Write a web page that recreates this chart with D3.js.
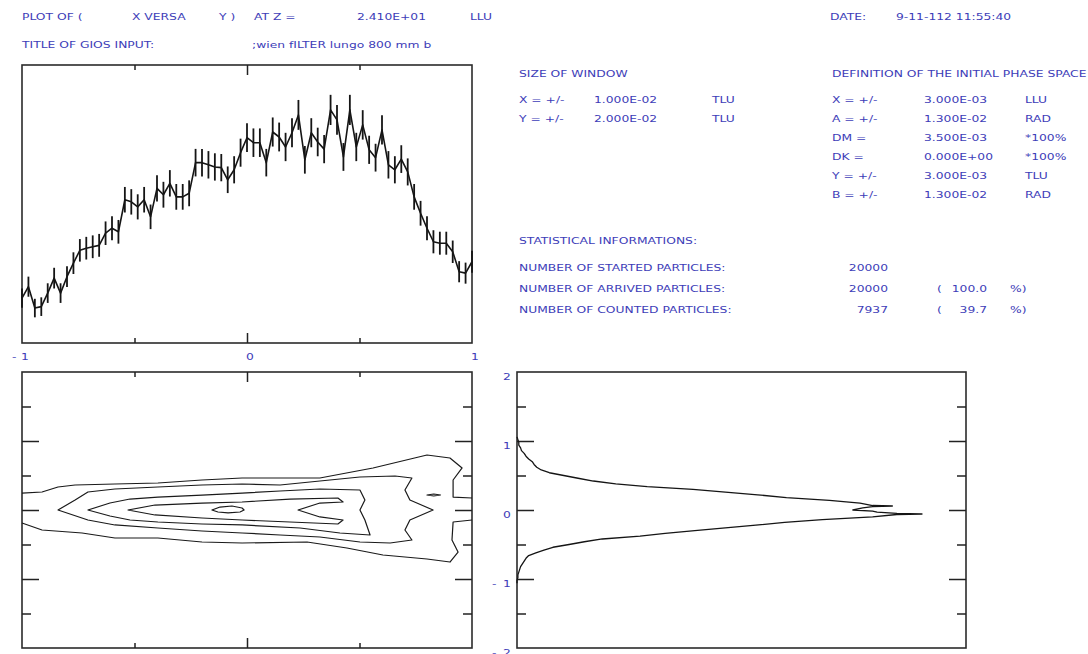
<!DOCTYPE html>
<html>
<head>
<meta charset="utf-8">
<script src="https://cdn.jsdelivr.net/npm/d3@7"></script>
<style>
  body { margin: 0; background: #fff; }
  text { font-family: "DejaVu Sans", sans-serif; font-size: 8.5px; fill: #3d3db8; }
</style>
</head>
<body>
<svg id="c" width="1088" height="654"></svg>
<script>
// ---- X projection histogram (counts per bin, bins from -1 to 1) ----
const histCounts = [183, 199, 169, 171, 190, 211, 190, 213, 232, 250, 253, 255, 257, 274, 281, 276,
  321, 318, 311, 321, 297, 337, 328, 344, 325, 325, 330, 373, 373, 370, 367, 366, 349, 363, 387,
  408, 401, 401, 373, 416, 409, 395, 415, 440, 377, 415, 402, 392, 447, 433, 381, 447, 395, 426,
  391, 380, 419, 370, 363, 378, 360, 325, 302, 281, 262, 260, 260, 248, 220, 218, 234];

// ---- Y projection profile (y position, counts) ----
const profileY = [1.06, 1.02, 0.98, 0.94, 0.90, 0.86, 0.82, 0.78, 0.74, 0.70, 0.66, 0.62, 0.58, 0.54,
  0.50, 0.46, 0.42, 0.38, 0.34, 0.30, 0.26, 0.22, 0.18, 0.14, 0.10, 0.065, 0.058, 0.05, 0.03, 0.0,
  -0.015, -0.03, -0.05, -0.058, -0.065, -0.10, -0.14, -0.18, -0.22, -0.26, -0.30, -0.34, -0.38, -0.42,
  -0.46, -0.50, -0.54, -0.58, -0.62, -0.66, -0.70, -0.74, -0.78, -0.82, -0.86, -0.90, -0.94, -0.98,
  -1.02, -1.06];
const profileCounts = [0, 1, 2, 2, 4, 5, 8, 10, 13, 17, 19, 22, 27, 36, 52, 68, 85, 110, 145, 196,
  232, 268, 300, 348, 382, 396, 418, 396, 385, 374, 396, 401, 423, 451, 423, 396, 340, 298, 266, 232,
  198, 165, 137, 95, 75, 58, 40, 30, 21, 13, 10, 8, 6, 4, 3, 2, 1, 1, 0, 0];

// ---- X-Y density contours, [x, y] in window units ----
const contourOuterTop = [[-1.000, 0.246], [-0.911, 0.261], [-0.840, 0.333], [-0.764, 0.362], [-0.587, 0.377],
  [-0.396, 0.391], [-0.200, 0.435], [-0.022, 0.464], [0.324, 0.464], [0.560, 0.609], [0.800, 0.797],
  [0.902, 0.754], [0.956, 0.609], [0.916, 0.435], [0.916, 0.188], [1.000, 0.174]];
const contourOuterBottom = [[-1.000, -0.188], [-0.911, -0.290], [-0.733, -0.333], [-0.587, -0.406],
  [-0.396, -0.406], [-0.200, -0.464], [-0.022, -0.478], [0.267, -0.464], [0.444, -0.551], [0.604, -0.652],
  [0.800, -0.710], [0.902, -0.754], [0.938, -0.609], [0.911, -0.435], [0.916, -0.174], [1.000, -0.145]];
const contourLevel2 = [[-0.840, 0], [-0.764, 0.145], [-0.707, 0.261], [-0.587, 0.304], [-0.396, 0.333],
  [-0.200, 0.362], [-0.022, 0.377], [0.147, 0.362], [0.324, 0.420], [0.502, 0.478], [0.658, 0.493],
  [0.733, 0.464], [0.702, 0.290], [0.724, 0.145], [0.827, 0], [0.724, -0.145], [0.702, -0.290],
  [0.733, -0.435], [0.636, -0.478], [0.502, -0.464], [0.324, -0.391], [0.147, -0.362], [-0.022, -0.333],
  [-0.200, -0.304], [-0.396, -0.261], [-0.587, -0.217], [-0.707, -0.145]];
const contourLevel3 = [[-0.707, 0], [-0.609, 0.101], [-0.520, 0.159], [-0.396, 0.188], [-0.200, 0.217],
  [-0.022, 0.246], [0.147, 0.275], [0.324, 0.304], [0.502, 0.290], [0.524, 0.145], [0.502, 0],
  [0.524, -0.145], [0.547, -0.362], [0.413, -0.333], [0.236, -0.261], [-0.022, -0.217], [-0.200, -0.203],
  [-0.396, -0.174], [-0.520, -0.145], [-0.609, -0.087]];
const contourLevel4 = [[-0.529, 0], [-0.409, 0.072], [-0.200, 0.101], [-0.022, 0.116], [0.191, 0.159],
  [0.404, 0.174], [0.427, 0.116], [0.324, 0.101], [0.227, 0], [0.324, -0.101], [0.427, -0.145],
  [0.404, -0.203], [0.191, -0.174], [-0.022, -0.145], [-0.200, -0.116], [-0.409, -0.072]];
const contourLevel5 = [[-0.156, 0], [-0.120, 0.043], [-0.067, 0.058], [-0.022, 0.029], [-0.013, 0],
  [-0.031, -0.029], [-0.084, -0.043], [-0.129, -0.029]];
const contourIsland = [[0.800, 0.217], [0.830, 0.232], [0.860, 0.217], [0.830, 0.203]];

// ---- Axis tick values and labels ----
const xMajorTicks = [0];
const xMinorTicks = [-0.5, 0.5];
const xLabels = [-1, 0, 1];
const yMajorTicks = [-1, 0, 1];
const yMinorTicks = [-1.5, -0.5, 0.5, 1.5];
const yLabels = [2, 1, 0, -1, -2];

// ---- Header and info texts ----
const headerRow1 = [["PLOT OF (", 22], ["X  VERSA", 132], ["Y )", 219], ["AT Z =", 254], ["2.410E+01", 357], ["LLU", 470], ["DATE:", 830], ["9-11-112 11:55:40", 896]];
const headerRow2 = [["TITLE OF GIOS INPUT:", 22], [";wien fILTER lungo 800 mm b", 252]];
const windowRows = [["X  = +/-", "1.000E-02", "TLU"], ["Y  = +/-", "2.000E-02", "TLU"]];
const phaseRows = [["X  = +/-", "3.000E-03", "LLU"], ["A  = +/-", "1.300E-02", "RAD"], ["DM =", "3.500E-03", "*100%"],
  ["DK =", "0.000E+00", "*100%"], ["Y  = +/-", "3.000E-03", "TLU"], ["B  = +/-", "1.300E-02", "RAD"]];
const statRows = [["NUMBER OF STARTED PARTICLES:", "20000", "", ""], ["NUMBER OF ARRIVED PARTICLES:", "20000", "100.0", "%)"],
  ["NUMBER OF COUNTED PARTICLES:", "7937", "39.7", "%)"]];

const svg = d3.select("#c");
const INK = "#151515";
const STRETCH = 1.45;   // plotter lettering is drawn wide

// Scales
const X = d3.scaleLinear().domain([-1, 1]).range([22, 472]);
const Yh = d3.scaleLinear().domain([120, 510]).range([343, 65]);
const Yc = d3.scaleLinear().domain([-2, 2]).range([648, 372]);
const Xp = d3.scaleLinear().domain([0, 500]).range([517, 966]);

function frame(x0, x1, y0, y1) {
  svg.append("rect").attr("x", x0).attr("y", y0).attr("width", x1 - x0).attr("height", y1 - y0)
    .attr("fill", "none").attr("stroke", "#2b2b2b").attr("stroke-width", 1.6);
}
function ticks(axisFn, scale, pos, values, len, horizontal) {
  const ax = axisFn(scale).tickValues(values).tickSize(-len).tickFormat("");
  const g = svg.append("g").attr("color", "#222")
    .attr("transform", horizontal ? `translate(0,${pos})` : `translate(${pos},0)`).call(ax);
  g.select(".domain").remove();
  g.selectAll("line").attr("stroke-width", 1.5);
}
function txt(x, y, s, anchor) {
  svg.append("text").attr("transform", `translate(${x},${y}) scale(${STRETCH},1)`)
    .attr("text-anchor", anchor || "start").text(s);
}

// ---------- Header ----------
headerRow1.forEach(([s, x]) => txt(x, 19.5, s));
headerRow2.forEach(([s, x]) => txt(x, 48, s));

// ---------- Info block ----------
txt(519, 77, "SIZE OF WINDOW");
windowRows.forEach((r, i) => { const y = 103 + i * 19; txt(519, y, r[0]); txt(594, y, r[1]); txt(712, y, r[2]); });
txt(832, 77, "DEFINITION OF THE INITIAL PHASE SPACE");
phaseRows.forEach((r, i) => { const y = 103 + i * 19; txt(832, y, r[0]); txt(924, y, r[1]); txt(1025, y, r[2]); });
txt(519, 244, "STATISTICAL INFORMATIONS:");
statRows.forEach((r, i) => {
  const y = 271 + i * 21;
  txt(519, y, r[0]); txt(888, y, r[1], "end");
  if (r[2]) { txt(937, y, "("); txt(987, y, r[2], "end"); txt(1010, y, r[3]); }
});

// ---------- Top: X histogram with error bars ----------
frame(22, 472, 65, 343);
ticks(d3.axisBottom, X, 343, xMajorTicks, 10, true);
ticks(d3.axisBottom, X, 343, xMinorTicks, 5, true);
ticks(d3.axisTop, X, 65, xMajorTicks, 10, true);
ticks(d3.axisTop, X, 65, xMinorTicks, 5, true);
xLabels.forEach(v => {
  txt(X(v) + 3, 360, String(Math.abs(v)), "middle");
  if (v < 0) txt(X(v) - 10, 360, "-");
});

const histPts = histCounts.map((c, i) => ({ x: -1 + i / 35, c }));
svg.append("g").selectAll("line").data(histPts).join("line")
  .attr("x1", d => X(d.x)).attr("x2", d => X(d.x))
  .attr("y1", d => Yh(d.c - Math.sqrt(d.c))).attr("y2", d => Yh(d.c + Math.sqrt(d.c)))
  .attr("stroke", INK).attr("stroke-width", 1.8);
svg.append("path").datum(histPts)
  .attr("d", d3.line().x(d => X(d.x)).y(d => Yh(d.c)))
  .attr("fill", "none").attr("stroke", INK).attr("stroke-width", 1.6).attr("stroke-linejoin", "round");

// ---------- Bottom left: X-Y contours ----------
frame(22, 472, 372, 648);
ticks(d3.axisBottom, X, 648, xMajorTicks, 10, true);
ticks(d3.axisBottom, X, 648, xMinorTicks, 5, true);
ticks(d3.axisTop, X, 372, xMajorTicks, 10, true);
ticks(d3.axisTop, X, 372, xMinorTicks, 5, true);
ticks(d3.axisLeft, Yc, 22, yMajorTicks, 17, false);
ticks(d3.axisLeft, Yc, 22, yMinorTicks, 9, false);
ticks(d3.axisRight, Yc, 472, yMajorTicks, 17, false);
ticks(d3.axisRight, Yc, 472, yMinorTicks, 9, false);

const cg = svg.append("g").attr("fill", "none").attr("stroke", "#1a1a1a").attr("stroke-width", 1.2).attr("stroke-linejoin", "round");
const openLine = d3.line().x(d => X(d[0])).y(d => Yc(d[1]));
const closedLine = d3.line().x(d => X(d[0])).y(d => Yc(d[1])).curve(d3.curveLinearClosed);
[contourOuterTop, contourOuterBottom].forEach(c => cg.append("path").attr("d", openLine(c)));
[contourLevel2, contourLevel3, contourLevel4, contourLevel5, contourIsland].forEach(c => cg.append("path").attr("d", closedLine(c)));

// ---------- Bottom right: Y profile ----------
frame(517, 966, 372, 648);
ticks(d3.axisLeft, Yc, 517, yMajorTicks, 17, false);
ticks(d3.axisLeft, Yc, 517, yMinorTicks, 9, false);
ticks(d3.axisRight, Yc, 966, yMajorTicks, 17, false);
ticks(d3.axisRight, Yc, 966, yMinorTicks, 9, false);
yLabels.forEach(v => {
  txt(507, Yc(v) + 8, String(Math.abs(v)), "middle");
  if (v < 0) txt(492, Yc(v) + 8, "-");
});

svg.append("path").datum(profileY.map((y, i) => [profileCounts[i], y]))
  .attr("d", d3.line().x(d => Xp(d[0])).y(d => Yc(d[1])))
  .attr("fill", "none").attr("stroke", INK).attr("stroke-width", 1.3).attr("stroke-linejoin", "round");
</script>
</body>
</html>
